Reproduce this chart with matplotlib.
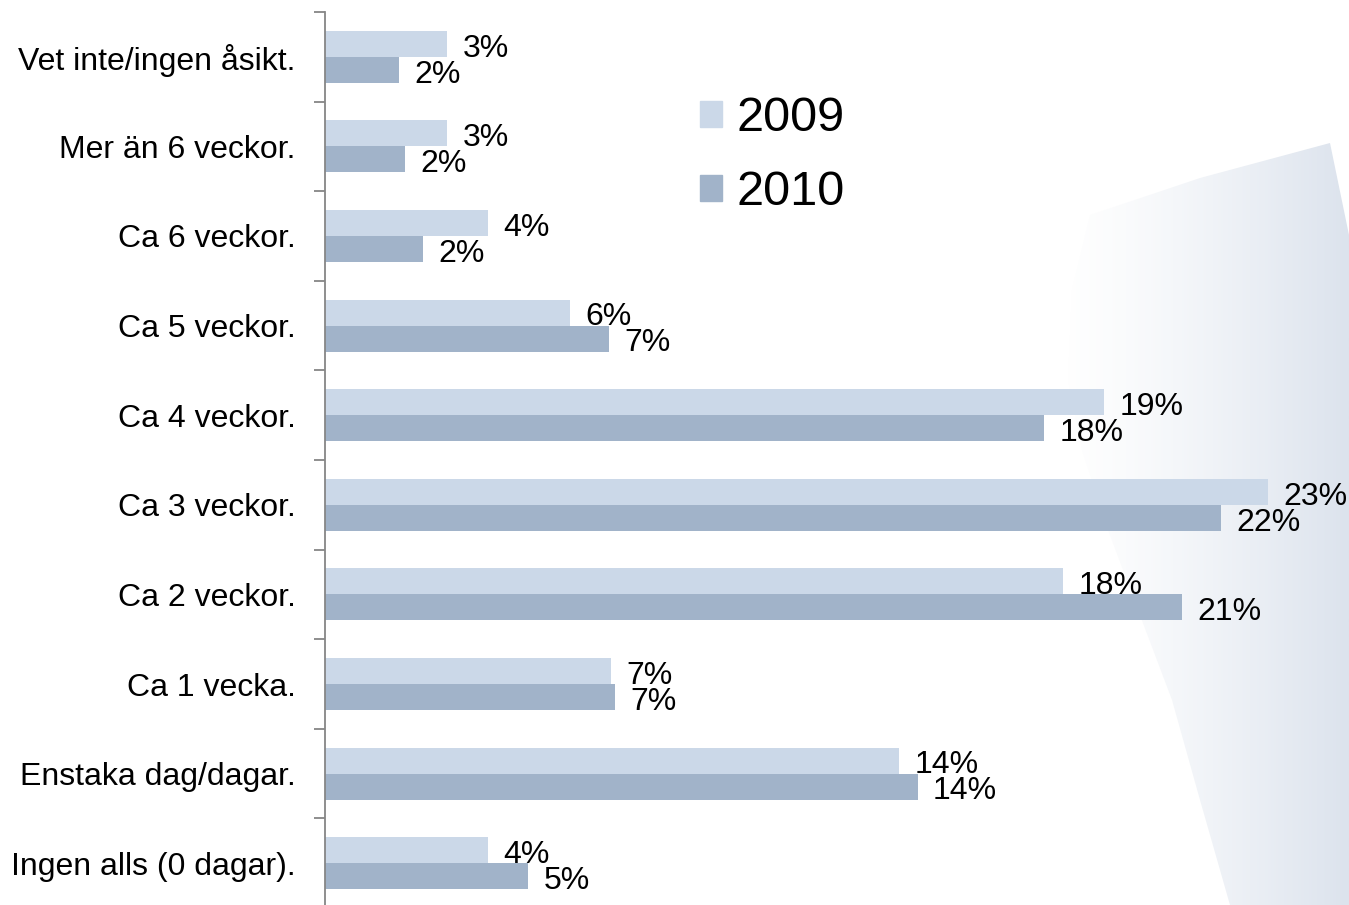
import numpy as np
import matplotlib
matplotlib.use("Agg")
from matplotlib import pyplot as plt
from matplotlib.patches import Polygon, Patch

plt.rcParams['font.family'] = ['Liberation Sans', 'DejaVu Sans']

categories = ["Vet inte/ingen åsikt.", "Mer än 6 veckor.", "Ca 6 veckor.", "Ca 5 veckor.",
              "Ca 4 veckor.", "Ca 3 veckor.", "Ca 2 veckor.", "Ca 1 vecka.",
              "Enstaka dag/dagar.", "Ingen alls (0 dagar)."]
values_2009 = [2.98, 2.98, 3.99, 5.99, 19.02, 23.03, 18.02, 6.99, 14.01, 3.99]
values_2010 = [1.81, 1.96, 2.40, 6.94, 17.55, 21.88, 20.93, 7.09, 14.47, 4.96]
series = ["2009", "2010"]
colors = ["#cbd8e8", "#a1b3c9"]

W, H = 1349, 905
fig = plt.figure(figsize=(W / 100, H / 100), dpi=100)

# faint decorative swoosh in the background
bg = fig.add_axes([0, 0, 1, 1], zorder=-1)
bg.set_xlim(0, W)
bg.set_ylim(H, 0)
bg.axis("off")
swoosh = Polygon([(1090, 215), (1200, 178), (1330, 143), (1349, 235), (1349, 905),
                  (1230, 905), (1200, 800), (1172, 700), (1138, 610), (1108, 530),
                  (1082, 450), (1068, 380), (1072, 290)],
                 closed=True, transform=bg.transData, facecolor="none", edgecolor="none")
bg.add_patch(swoosh)
grad = np.linspace(0, 1, 256).reshape(1, -1) ** 1.4
img = bg.imshow(grad, extent=(1050, W, H, 140), aspect="auto",
                cmap=matplotlib.colors.LinearSegmentedColormap.from_list("g", ["#ffffff", "#dce3ed"]),
                zorder=0)
img.set_clip_path(swoosh)

ax = fig.add_axes([325 / W, -3 / H, 1 - 325 / W, 896 / H])
ax.patch.set_alpha(0)

y = np.arange(len(categories))
h = 0.29
b1 = ax.barh(y - h / 2, values_2009, height=h, color=colors[0], label=series[0])
b2 = ax.barh(y + h / 2, values_2010, height=h, color=colors[1], label=series[1])
for bars, vals in ((b1, values_2009), (b2, values_2010)):
    anns = ax.bar_label(bars, labels=[f"{round(v)}%" for v in vals], padding=11, fontsize=23)
    for a in anns:
        a.xyann = (11, -3.5)

ax.set_xlim(0, (W - 325) / 40.96)
ax.set_ylim(len(categories) - 0.5, -0.5)

ax.set_yticks(y)
ax.set_yticklabels(categories, fontsize=23)
ax.set_yticks(np.arange(len(categories) + 1) - 0.5, minor=True)
ax.tick_params(axis="y", which="major", length=0, pad=21)
ax.tick_params(axis="y", which="minor", length=8, width=1.3, color="#868686", direction="out")
ax.set_xticks([])
for side in ("top", "right", "bottom"):
    ax.spines[side].set_visible(False)
ax.spines["left"].set_color("#868686")
ax.spines["left"].set_linewidth(1.3)

handles = [Patch(color=c, label=s) for c, s in zip(colors, series)]
fig.legend(handles=handles, loc="upper left", bbox_to_anchor=(700 / W, 1 - 96 / H),
           frameon=False, fontsize=35, handlelength=0.45, handleheight=0.45,
           handletextpad=0.3, labelspacing=0.6, borderpad=0, borderaxespad=0)

fig.savefig("out.png", dpi=100)
